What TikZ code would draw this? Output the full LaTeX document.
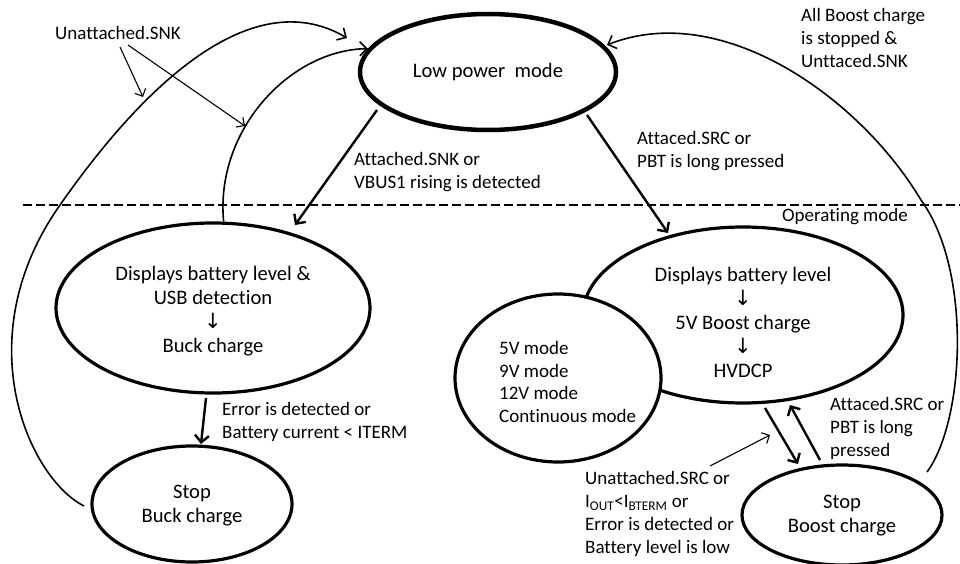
\documentclass[tikz,border=0pt]{standalone}
\usepackage{fontspec}
\setmainfont{Carlito}[Ligatures=NoCommon]
\newfontfamily\arrowfont{DejaVu Sans}
\usetikzlibrary{shapes.geometric,arrows.meta}
\newcommand\dnarrow{{\arrowfont\fontsize{21}{21}\selectfont ↓}}
\begin{document}
\begin{tikzpicture}[x=1pt,y=-1pt,
  st/.style={ellipse, draw, line width=3.2pt, inner sep=0pt, align=center,
             font=\fontsize{20.6}{24}\selectfont},
  intext/.style={align=center, inner sep=0pt, font=\fontsize{20.6}{24}\selectfont},
  lbl/.style={align=left, inner sep=0pt, font=\fontsize{19}{23}\selectfont},
  tharrow/.style={line width=2.4pt, -{Straight Barb[length=7pt,width=14pt]}},
  curvearrow/.style={line width=1.6pt, -{Straight Barb[length=7pt,width=14pt]}},
  pointer/.style={line width=1.1pt, -{Straight Barb[length=6pt,width=12pt]}}]
\useasboundingbox (0,0) rectangle (960,564);

% states
\node[st, line width=4.5pt, minimum width=256pt, minimum height=116pt] (lp) at (488,72) {Low power\ \ mode};
\node[st, minimum width=314pt, minimum height=170pt] (bk) at (213,308) {};
\node[intext] (bktext) at (213,311)
  {Displays battery level \&\\USB detection\\\dnarrow\\Buck charge};
\node[st, minimum width=200pt, minimum height=116pt] (sbk) at (192,504) {};
\node[intext] (sbktext) at (192,506) {Stop\\Buck charge};
\node[st, minimum width=320pt, minimum height=176pt] (bo) at (743,315) {};
\node[intext] (botext) at (743,322)
  {Displays battery level\\\dnarrow\\5V Boost charge\\\dnarrow\\HVDCP};
\node[st, fill=white, minimum width=206pt, minimum height=168pt] (md) at (558,378) {};
\node[lbl, anchor=west, font=\fontsize{19}{22.5}\selectfont] (mdtext) at (499,382)
  {5V mode\\9V mode\\12V mode\\Continuous mode};
\node[st, minimum width=200pt, minimum height=100pt] (sbo) at (842,515) {};
\node[intext] (sbotext) at (842,516) {Stop\\Boost charge};

% labels
\node[lbl] (l1) at (118,33) {Unattached.SNK};
\node[lbl, anchor=west] (l2) at (354,172) {Attached.SNK or\\VBUS1 rising is detected};
\node[lbl, anchor=west] (l3) at (637,151) {Attaced.SRC or\\PBT is long pressed};
\node[lbl, anchor=west] (l4) at (801,38) {All Boost charge\\is stopped \&\\Unttaced.SNK};
\node[lbl] (l5) at (845,217) {Operating mode};
\node[lbl, anchor=west] (l6) at (222,422) {Error is detected or\\Battery current < ITERM};
\node[lbl, anchor=west] (l7) at (830,428) {Attaced.SRC or\\PBT is long\\pressed};
\node[lbl, anchor=west] (l8) at (585,514)
  {Unattached.SRC or\\I\textsubscript{OUT}<I\textsubscript{BTERM} or\\Error is detected or\\Battery level is low};

% mode separator
\coordinate (dl) at (23,205);
\coordinate (dr) at (960,205);
\draw[line width=1.8pt, dash pattern=on 9pt off 4pt] (dl) -- (dr);

% free ends
\coordinate (c1s) at (84,506);
\coordinate (c1m) at (60,205);
\coordinate (c1e) at (347,38);
\coordinate (c2s) at (bk.83);
\coordinate (c3s) at (927,472);
\coordinate (c3m) at (921,200);
\coordinate (c3e) at (607,45);
\coordinate (a1s) at (377,110);  \coordinate (a1e) at (295,225);
\coordinate (a2s) at (587,115);  \coordinate (a2e) at (668,233);
\coordinate (a3s) at (206,398);  \coordinate (a3e) at (201,444);
\coordinate (a4s) at (765,408);  \coordinate (a4e) at (798,464);
\coordinate (a5s) at (820,460);  \coordinate (a5e) at (790,405);
\coordinate (p1s) at (120,47);   \coordinate (p1e) at (143,97);
\coordinate (p2s) at (128,45);   \coordinate (p2e) at (245,126);
\coordinate (p3s) at (710,466);  \coordinate (p3e) at (770,435);

% long return curves
\draw[curvearrow] (c1s) .. controls (30,479) and (-35,340) .. (c1m)
                        .. controls (160,62) and (262,-12) .. (c1e);
\draw[curvearrow] (c2s) .. controls (215,130) and (290,50) .. (lp.169);
\draw[curvearrow] (c3s) .. controls (965,420) and (972,270) .. (c3m)
                        .. controls (858,95) and (720,0) .. (c3e);

% straight transitions
\draw[tharrow] (a1s) -- (a1e);
\draw[tharrow] (a2s) -- (a2e);
\draw[tharrow] (a3s) -- (a3e);
\draw[tharrow] (a4s) -- (a4e);
\draw[tharrow] (a5s) -- (a5e);

% label pointers
\draw[pointer] (p1s) -- (p1e);
\draw[pointer] (p2s) -- (p2e);
\draw[pointer] (p3s) -- (p3e);
\end{tikzpicture}
\end{document}
